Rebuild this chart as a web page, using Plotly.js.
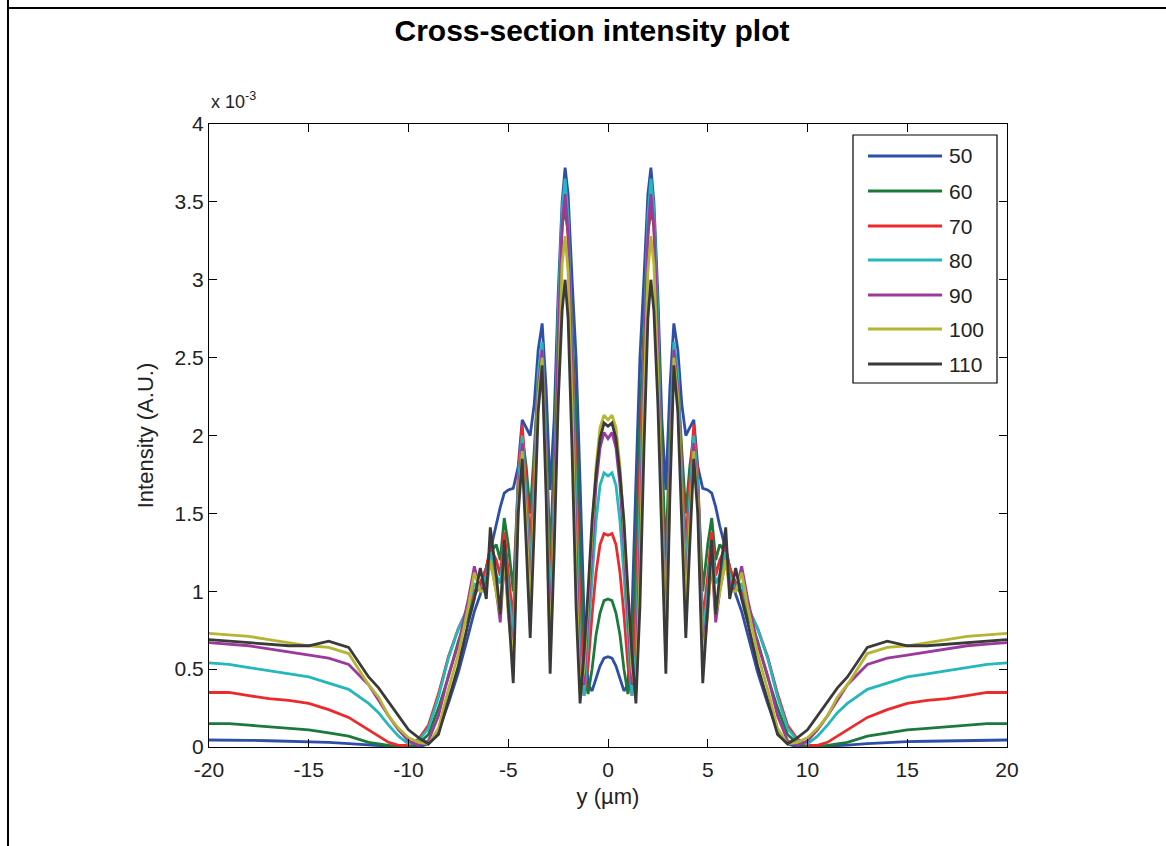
<!DOCTYPE html>
<html><head><meta charset="utf-8">
<script src="https://cdn.plot.ly/plotly-3.0.1.min.js"></script>
<style>html,body{margin:0;padding:0;background:#fff;} #chart{width:1166px;height:846px;}</style>
</head><body><div id="chart"></div>
<script>
// Position along the cross-section, y (µm)
const positionUm = [-20,-19,-18,-17,-16,-15,-14,-13,-12,-11.5,-11,-10.5,-10,-9.5,-9,-8.5,-8,-7.5,
  -7,-6.7,-6.4,-6.1,-5.9,-5.6,-5.4,-5.2,-5.0,-4.75,-4.5,-4.3,-4.1,-3.9,-3.7,-3.5,-3.3,-3.1,
  -2.9,-2.7,-2.5,-2.3,-2.15,-2.0,-1.8,-1.6,-1.4,-1.2,-1.0,-0.8,-0.6,-0.4,-0.2,0,
  0.2,0.4,0.6,0.8,1.0,1.2,1.4,1.6,1.8,2.0,2.15,2.3,2.5,2.7,2.9,3.1,3.3,3.5,3.7,3.9,4.1,4.3,4.5,4.75,
  5.0,5.2,5.4,5.6,5.9,6.1,6.4,6.7,7,7.5,8,8.5,9,9.5,10,10.5,11,11.5,12,13,14,15,16,17,18,19,20];

// Intensity in units of 1e-3 (A.U.)
const intensity50 = [0.045,0.045,0.043,0.04,0.037,0.035,0.03,0.022,0.012,0.008,0.005,0.002,0.0,0.0,0.02,0.1,0.28,0.48,
  0.72,0.87,0.98,1.15,1.27,1.42,1.54,1.63,1.65,1.66,1.8,2.1,2.05,2.0,2.2,2.55,2.72,2.3,
  1.65,2.1,2.9,3.5,3.72,3.55,3.0,2.5,1.7,0.85,0.4,0.36,0.44,0.52,0.57,0.58,
  0.57,0.52,0.44,0.36,0.4,0.85,1.7,2.5,3.0,3.55,3.72,3.5,2.9,2.1,1.65,2.3,2.72,2.55,2.2,2.0,2.05,2.1,1.8,1.66,
  1.65,1.63,1.54,1.42,1.27,1.15,0.98,0.87,0.72,0.48,0.28,0.1,0.02,0.0,0.0,0.002,0.005,0.008,0.012,0.022,0.03,0.035,0.037,0.04,0.043,0.045,0.045];
const intensity60 = [0.15,0.15,0.14,0.13,0.12,0.11,0.09,0.07,0.03,0.02,0.01,0.0,0.0,0.02,0.08,0.25,0.45,0.68,
  0.85,0.97,1.05,1.15,1.25,1.3,1.2,1.47,1.3,1.0,1.7,2.0,1.8,1.5,1.9,2.35,2.5,2.0,
  1.2,1.9,2.8,3.35,3.45,3.3,2.7,2.1,1.3,0.5,0.34,0.5,0.72,0.86,0.94,0.95,
  0.94,0.86,0.72,0.5,0.34,0.5,1.3,2.1,2.7,3.3,3.45,3.35,2.8,1.9,1.2,2.0,2.5,2.35,1.9,1.5,1.8,2.0,1.7,1.0,
  1.3,1.47,1.2,1.3,1.25,1.15,1.05,0.97,0.85,0.68,0.45,0.25,0.08,0.02,0.0,0.0,0.01,0.02,0.03,0.07,0.09,0.11,0.12,0.13,0.14,0.15,0.15];
const intensity70 = [0.35,0.35,0.33,0.31,0.3,0.28,0.24,0.19,0.11,0.07,0.03,0.01,0.01,0.05,0.14,0.34,0.58,0.76,
  0.9,1.0,1.05,1.15,1.28,1.2,1.1,1.38,1.1,0.8,1.75,2.07,1.7,1.3,1.8,2.35,2.55,1.9,
  0.9,1.7,2.7,3.35,3.5,3.3,2.6,1.8,0.9,0.33,0.52,0.85,1.12,1.3,1.37,1.36,
  1.37,1.3,1.12,0.85,0.52,0.33,0.9,1.8,2.6,3.3,3.5,3.35,2.7,1.7,0.9,1.9,2.55,2.35,1.8,1.3,1.7,2.07,1.75,0.8,
  1.1,1.38,1.1,1.2,1.28,1.15,1.05,1.0,0.9,0.76,0.58,0.34,0.14,0.05,0.01,0.01,0.03,0.07,0.11,0.19,0.24,0.28,0.3,0.31,0.33,0.35,0.35];
const intensity80 = [0.54,0.53,0.51,0.49,0.47,0.45,0.41,0.37,0.28,0.22,0.14,0.07,0.02,0.04,0.12,0.32,0.57,0.76,
  0.9,1.05,1.0,1.1,1.25,1.1,1.05,1.3,1.0,0.7,1.7,2.0,1.6,1.1,1.7,2.4,2.6,1.9,
  0.8,1.6,2.75,3.45,3.65,3.4,2.5,1.5,0.6,0.33,0.7,1.1,1.45,1.68,1.76,1.74,
  1.76,1.68,1.45,1.1,0.7,0.33,0.6,1.5,2.5,3.4,3.65,3.45,2.75,1.6,0.8,1.9,2.6,2.4,1.7,1.1,1.6,2.0,1.7,0.7,
  1.0,1.3,1.05,1.1,1.25,1.1,1.0,1.05,0.9,0.76,0.57,0.32,0.12,0.04,0.02,0.07,0.14,0.22,0.28,0.37,0.41,0.45,0.47,0.49,0.51,0.53,0.54];
const intensity90 = [0.67,0.66,0.65,0.63,0.61,0.59,0.57,0.53,0.4,0.3,0.2,0.11,0.04,0.01,0.04,0.2,0.46,0.66,
  0.95,1.16,1.0,1.05,1.2,1.0,0.8,1.2,0.9,0.6,1.6,1.95,1.5,0.95,1.6,2.3,2.55,1.8,
  0.65,1.5,2.6,3.35,3.55,3.3,2.4,1.3,0.45,0.4,0.85,1.3,1.68,1.92,2.02,1.98,
  2.02,1.92,1.68,1.3,0.85,0.4,0.45,1.3,2.4,3.3,3.55,3.35,2.6,1.5,0.65,1.8,2.55,2.3,1.6,0.95,1.5,1.95,1.6,0.6,
  0.9,1.2,0.8,1.0,1.2,1.05,1.0,1.16,0.95,0.66,0.46,0.2,0.04,0.01,0.04,0.11,0.2,0.3,0.4,0.53,0.57,0.59,0.61,0.63,0.65,0.66,0.67];
const intensity100 = [0.73,0.72,0.71,0.69,0.67,0.65,0.64,0.6,0.4,0.32,0.2,0.12,0.06,0.03,0.02,0.12,0.37,0.6,
  0.9,1.12,1.0,1.0,1.2,1.0,0.85,1.25,0.85,0.55,1.55,1.9,1.45,0.85,1.55,2.25,2.5,1.7,
  0.55,1.4,2.4,3.1,3.28,3.05,2.2,1.1,0.35,0.5,0.95,1.4,1.8,2.05,2.13,2.1,
  2.13,2.05,1.8,1.4,0.95,0.5,0.35,1.1,2.2,3.05,3.28,3.1,2.4,1.4,0.55,1.7,2.5,2.25,1.55,0.85,1.45,1.9,1.55,0.55,
  0.85,1.25,0.85,1.0,1.2,1.0,1.0,1.12,0.9,0.6,0.37,0.12,0.02,0.03,0.06,0.12,0.2,0.32,0.4,0.6,0.64,0.65,0.67,0.69,0.71,0.72,0.73];
const intensity110 = [0.69,0.68,0.67,0.66,0.65,0.65,0.68,0.64,0.45,0.38,0.29,0.2,0.11,0.06,0.02,0.08,0.3,0.52,
  0.8,0.95,1.15,0.95,1.41,1.1,0.85,1.33,0.9,0.41,1.5,1.85,1.3,0.7,1.4,2.15,2.45,1.6,
  0.47,1.25,2.2,2.8,3.0,2.75,1.9,0.9,0.28,0.6,1.0,1.45,1.75,1.98,2.08,2.06,
  2.08,1.98,1.75,1.45,1.0,0.6,0.28,0.9,1.9,2.75,3.0,2.8,2.2,1.25,0.47,1.6,2.45,2.15,1.4,0.7,1.3,1.85,1.5,0.41,
  0.9,1.33,0.85,1.1,1.41,0.95,1.15,0.95,0.8,0.52,0.3,0.08,0.02,0.06,0.11,0.2,0.29,0.38,0.45,0.64,0.68,0.65,0.65,0.66,0.67,0.68,0.69];

const seriesLabels = ["50","60","70","80","90","100","110"];
const seriesValues = [intensity50,intensity60,intensity70,intensity80,intensity90,intensity100,intensity110];
const seriesColors = ["#2f4ea8","#1b7a3b","#ec2a2c","#24b7bb","#9c3a9c","#b5b531","#3a3a3a"];

const yTickVals = [0,0.5,1,1.5,2,2.5,3,3.5,4];
const yTickText = ["0","0.5","1","1.5","2","2.5","3","3.5","4"];
const xTickVals = [-20,-15,-10,-5,0,5,10,15,20];
const xTickText = ["-20","-15","-10","-5","0","5","10","15","20"];

// pixel -> paper helpers (layout only)
const L=209, R=1007, T=124, B=747;
const px = x => (x-L)/(R-L);
const py = y => (B-y)/(B-T);
const FONT = "Liberation Sans, Arial, sans-serif";

const traces = seriesValues.map((v,i)=>({
  x: positionUm, y: v, type:'scatter', mode:'lines', name: seriesLabels[i],
  line:{color: seriesColors[i], width:2.8}, showlegend:false, hoverinfo:'skip'
}));

const shapes = [
  {type:'line', xref:'paper', yref:'paper', x0:px(8), x1:px(8), y0:py(0), y1:py(846), line:{color:'#000', width:2}},
  {type:'line', xref:'paper', yref:'paper', x0:px(8), x1:px(1166), y0:py(8), y1:py(8), line:{color:'#000', width:2}},
  {type:'rect', xref:'paper', yref:'paper', x0:px(853), x1:px(997), y0:py(383), y1:py(135), line:{color:'#000', width:1.2}, fillcolor:'#fff', layer:'above'}
];
const annotations = [
  {xref:'paper', yref:'paper', x:px(209), y:py(101), xanchor:'left', yanchor:'middle', showarrow:false,
   text:'x 10<sup>-3</sup>', font:{family:FONT, size:18, color:'#222'}}
];
const legendY = [156,191,226,260,295,329,364];
seriesLabels.forEach((lab,i)=>{
  shapes.push({type:'line', xref:'paper', yref:'paper', x0:px(868), x1:px(942), y0:py(legendY[i]), y1:py(legendY[i]),
    line:{color:seriesColors[i], width:2.8}, layer:'above'});
  annotations.push({xref:'paper', yref:'paper', x:px(947), y:py(legendY[i]), xanchor:'left', yanchor:'middle',
    showarrow:false, text:lab, font:{family:FONT, size:21, color:'#222'}});
});

const layout = {
  width:1166, height:846,
  margin:{l:L, r:1166-R, t:T, b:846-B, pad:0},
  paper_bgcolor:'#fff', plot_bgcolor:'#fff',
  font:{family:FONT, color:'#222'},
  title:{text:'<b>Cross-section intensity plot</b>', x:592/1166, xref:'container', xanchor:'center',
    y:1-30/846, yref:'container', yanchor:'middle', font:{family:FONT, size:30, color:'#000'}},
  xaxis:{range:[-20,20], tickvals:xTickVals, ticktext:xTickText, ticks:'inside', ticklen:8, tickwidth:1, tickcolor:'#000',
    showline:true, linecolor:'#000', linewidth:1, mirror:'ticks', showgrid:false, zeroline:false,
    ticklabelstandoff:4,
    tickfont:{family:FONT, size:21, color:'#222'},
    title:{text:'y (µm)', font:{family:FONT, size:22, color:'#222'}, standoff:8}},
  yaxis:{range:[0,4], tickvals:yTickVals, ticktext:yTickText, ticks:'inside', ticklen:8, tickwidth:1, tickcolor:'#000',
    showline:true, linecolor:'#000', linewidth:1, mirror:'ticks', showgrid:false, zeroline:false,
    tickfont:{family:FONT, size:21, color:'#222'},
    title:{text:'Intensity (A.U.)', font:{family:FONT, size:22, color:'#222'}, standoff:14}},
  shapes: shapes,
  annotations: annotations,
  showlegend:false
};
Plotly.newPlot('chart', traces, layout, {displayModeBar:false, staticPlot:true});
</script></body></html>
